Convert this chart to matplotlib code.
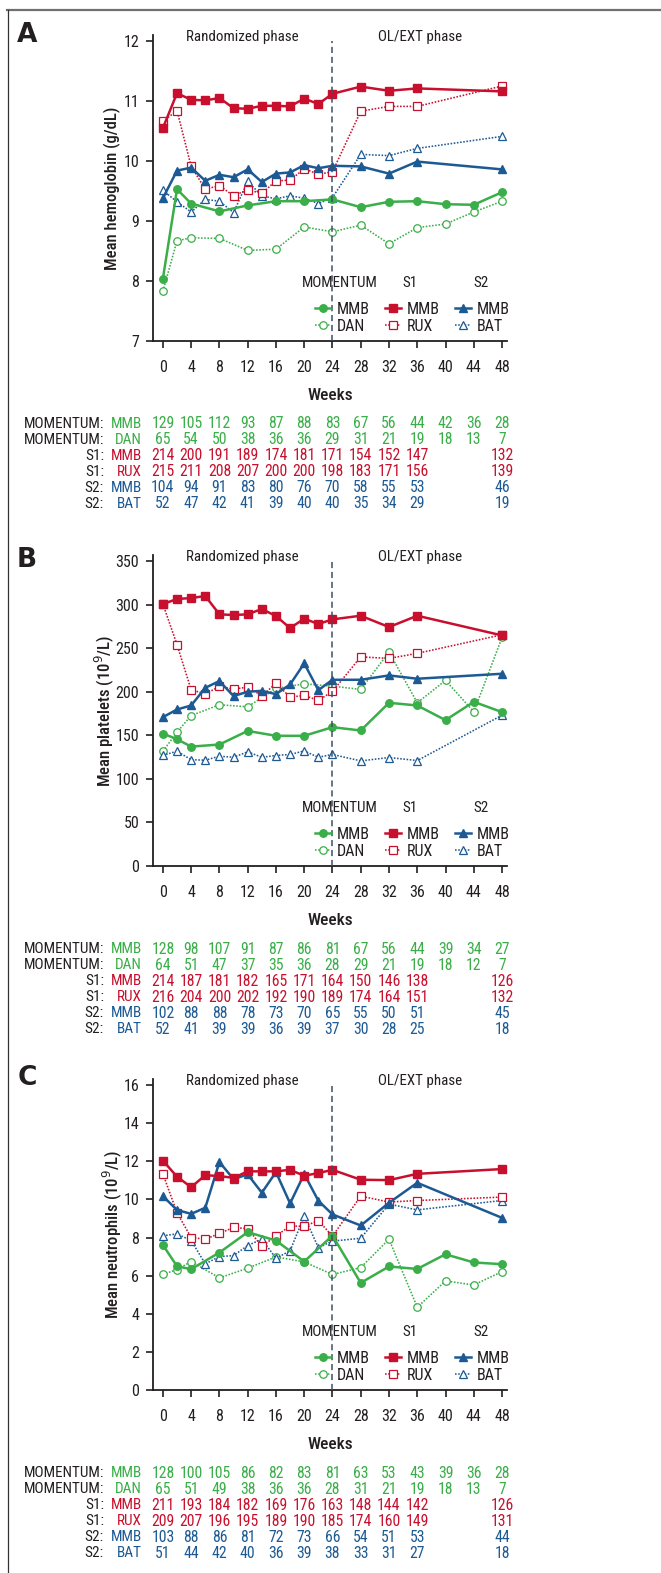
import matplotlib
matplotlib.use("Agg")
import matplotlib.pyplot as plt
import matplotlib.font_manager as fm
from matplotlib.lines import Line2D
from matplotlib import transforms

# ---------------- data ----------------
WK_M = [0, 2, 4, 8, 12, 16, 20, 24, 28, 32, 36, 40, 44, 48]
WK_S = [0, 2, 4, 6, 8, 10, 12, 14, 16, 18, 20, 22, 24, 28, 32, 36, 48]
TICK_WEEKS = [0, 4, 8, 12, 16, 20, 24, 28, 32, 36, 40, 44, 48]

# Hemoglobin (g/dL)
hb_mom_mmb = [8.04, 9.53, 9.29, 9.16, 9.26, 9.33, 9.33, 9.36, 9.23, 9.32, 9.33, 9.28, 9.27, 9.48]
hb_mom_dan = [7.83, 8.67, 8.72, 8.71, 8.51, 8.53, 8.90, 8.82, 8.93, 8.62, 8.89, 8.95, 9.15, 9.33]
hb_s1_mmb = [10.55, 11.13, 11.02, 11.01, 11.05, 10.88, 10.87, 10.92, 10.92, 10.91, 11.04, 10.95, 11.12, 11.24, 11.17, 11.21, 11.16]
hb_s1_rux = [10.66, 10.84, 9.91, 9.53, 9.59, 9.42, 9.52, 9.46, 9.67, 9.68, 9.87, 9.78, 9.82, 10.83, 10.91, 10.91, 11.25]
hb_s2_mmb = [9.38, 9.84, 9.89, 9.67, 9.77, 9.73, 9.86, 9.65, 9.79, 9.81, 9.93, 9.88, 9.92, 9.91, 9.79, 9.99, 9.86]
hb_s2_bat = [9.51, 9.32, 9.15, 9.36, 9.33, 9.14, 9.66, 9.42, 9.37, 9.42, 9.38, 9.29, 9.39, 10.11, 10.09, 10.21, 10.41]

# Platelets (10^9/L)
pl_mom_mmb = [152, 145.5, 137, 139.4, 155, 149.4, 149.4, 159.3, 155.5, 187.3, 184.2, 167.4, 188.4, 176.6]
pl_mom_dan = [131.7, 153.6, 172.7, 185, 182.7, 203.7, 209, 206.4, 202.6, 245.5, 187.3, 213, 177, 262.3]
pl_s1_mmb = [300.6, 306.4, 307.5, 309.8, 288.8, 288, 288.8, 294.9, 286.9, 273, 283.8, 277.7, 283, 287.2, 274.2, 287.2, 264.6]
pl_s1_rux = [300.6, 254, 202.2, 197.6, 206, 203, 205.3, 195.3, 209.5, 193.8, 195.7, 190, 200.3, 240, 238.2, 244, 265.4]
pl_s2_mmb = [170.8, 179.6, 184.2, 204.5, 212.2, 195, 200, 201, 197.2, 208.3, 232.5, 201.8, 213.7, 213.7, 218.7, 214.9, 220.6]
pl_s2_bat = [127, 131.7, 122, 121.4, 126, 124.8, 131, 124.8, 126.8, 128, 132, 124.8, 128, 120.6, 124.5, 121, 173]

# Neutrophils (10^9/L)
ne_mom_mmb = [7.61, 6.49, 6.34, 7.21, 8.28, 7.84, 6.74, 8.10, 5.62, 6.48, 6.35, 7.12, 6.69, 6.60]
ne_mom_dan = [6.06, 6.32, 6.74, 5.88, 6.39, 6.98, 6.72, 6.06, 6.42, 7.91, 4.34, 5.72, 5.51, 6.21]
ne_s1_mmb = [12.03, 11.19, 10.64, 11.27, 11.22, 11.13, 11.47, 11.47, 11.47, 11.55, 11.24, 11.38, 11.55, 11.03, 11.01, 11.34, 11.59]
ne_s1_rux = [11.34, 9.30, 8.00, 7.91, 8.21, 8.53, 8.46, 7.54, 8.07, 8.61, 8.58, 8.89, 8.07, 10.17, 9.86, 9.94, 10.12]
ne_s2_mmb = [10.17, 9.44, 9.24, 9.56, 11.96, 11.06, 11.31, 10.35, 11.43, 9.79, 11.33, 9.93, 9.21, 8.63, 9.82, 10.87, 9.03]
ne_s2_bat = [8.09, 8.19, 7.84, 6.62, 7.00, 7.05, 7.58, 7.91, 6.91, 7.30, 9.12, 7.47, 7.81, 7.96, 9.75, 9.45, 9.94]

# Numbers at risk (weeks 0..48 by 4); None = not reported
ROW_STUDY = ["MOMENTUM:", "MOMENTUM:", "S1:", "S1:", "S2:", "S2:"]
ROW_ARM = ["MMB", "DAN", "MMB", "RUX", "MMB", "BAT"]

n_hb = [
    [129, 105, 112, 93, 87, 88, 83, 67, 56, 44, 42, 36, 28],
    [65, 54, 50, 38, 36, 36, 29, 31, 21, 19, 18, 13, 7],
    [214, 200, 191, 189, 174, 181, 171, 154, 152, 147, None, None, 132],
    [215, 211, 208, 207, 200, 200, 198, 183, 171, 156, None, None, 139],
    [104, 94, 91, 83, 80, 76, 70, 58, 55, 53, None, None, 46],
    [52, 47, 42, 41, 39, 40, 40, 35, 34, 29, None, None, 19],
]
n_pl = [
    [128, 98, 107, 91, 87, 86, 81, 67, 56, 44, 39, 34, 27],
    [64, 51, 47, 37, 35, 36, 28, 29, 21, 19, 18, 12, 7],
    [214, 187, 181, 182, 165, 171, 164, 150, 146, 138, None, None, 126],
    [216, 204, 200, 202, 192, 190, 189, 174, 164, 151, None, None, 132],
    [102, 88, 88, 78, 73, 70, 65, 55, 50, 51, None, None, 45],
    [52, 41, 39, 39, 36, 39, 37, 30, 28, 25, None, None, 18],
]
n_ne = [
    [128, 100, 105, 86, 82, 83, 81, 63, 53, 43, 39, 36, 28],
    [65, 51, 49, 38, 36, 36, 28, 31, 21, 19, 18, 13, 7],
    [211, 193, 184, 182, 169, 176, 163, 148, 144, 142, None, None, 126],
    [209, 207, 196, 195, 189, 190, 185, 174, 160, 149, None, None, 131],
    [103, 88, 86, 81, 72, 73, 66, 54, 51, 53, None, None, 44],
    [51, 44, 42, 40, 36, 39, 38, 33, 31, 27, None, None, 18],
]

# ---------------- style ----------------
names = {f.name for f in fm.fontManager.ttflist}
FONT = "Liberation Sans"
SCALE = 0.85
for cand in ["Roboto Condensed", "Archivo Narrow", "PT Sans Narrow", "Fira Sans Condensed",
             "IBM Plex Sans Condensed", "Liberation Sans Narrow"]:
    if cand in names:
        FONT = cand
        SCALE = 1.0
        break
plt.rcParams["font.family"] = [FONT, "DejaVu Sans"]


def fs(v):
    return v * SCALE


GREEN = "#3aae48"
RED = "#c8102e"
BLUE = "#1d5a94"
DARK = "#231f20"
ROW_COLORS = [GREEN, GREEN, RED, RED, BLUE, BLUE]

W, H = 661, 1573
fig = plt.figure(figsize=(W / 100, H / 100), dpi=100)

# outer frame decoration
fig.add_artist(Line2D([7 / W, 1.0], [1 - 10 / H, 1 - 10 / H], transform=fig.transFigure,
                      color="#707070", lw=1.6))
fig.add_artist(Line2D([7.5 / W, 7.5 / W], [1 - 10 / H, 0], transform=fig.transFigure,
                      color="#333333", lw=0.9))

AX_L, AX_R = 153, 507
XLIM = (-1.4, 48.7)

panels = [
    dict(letter="A", bottom=341, ylim=(7, 12.1), top_tick=12, yticks=list(range(7, 13)),
         ylabel="Mean hemoglobin (g/dL)", ylab_x=112, px_per=60.0,
         series=(hb_mom_mmb, hb_mom_dan, hb_s1_mmb, hb_s1_rux, hb_s2_mmb, hb_s2_bat),
         table=n_hb, letter_y=35),
    dict(letter="B", bottom=866, ylim=(0, 357), top_tick=350, yticks=list(range(0, 351, 50)),
         ylabel="Mean platelets (10$^{9}$/L)", ylab_x=104, px_per=305 / 350,
         series=(pl_mom_mmb, pl_mom_dan, pl_s1_mmb, pl_s1_rux, pl_s2_mmb, pl_s2_bat),
         table=n_pl, letter_y=560),
    dict(letter="C", bottom=1390, ylim=(0, 16.3), top_tick=16, yticks=list(range(0, 17, 2)),
         ylabel="Mean neutrophils (10$^{9}$/L)", ylab_x=112, px_per=305 / 16,
         series=(ne_mom_mmb, ne_mom_dan, ne_s1_mmb, ne_s1_rux, ne_s2_mmb, ne_s2_bat),
         table=n_ne, letter_y=1078),
]

solid_kw = dict(lw=1.8, solid_joinstyle="round")
dot_kw = dict(lw=1.15, linestyle=(0, (1, 1.0)))

for p in panels:
    hpx = (p["ylim"][1] - p["ylim"][0]) * p["px_per"]
    ax = fig.add_axes([AX_L / W, (H - p["bottom"]) / H, (AX_R - AX_L) / W, hpx / H])
    ax.set_xlim(*XLIM)
    ax.set_ylim(*p["ylim"])
    for s in ["top", "right"]:
        ax.spines[s].set_visible(False)
    for s in ["left", "bottom"]:
        ax.spines[s].set_linewidth(1.3)
        ax.spines[s].set_color(DARK)
    ax.set_xticks(TICK_WEEKS)
    ax.set_yticks(p["yticks"])
    ax.tick_params(axis="both", direction="out", length=5, width=1.2, color=DARK,
                   labelsize=fs(11.5), labelcolor=DARK)
    ax.tick_params(axis="x", pad=9)
    ax.tick_params(axis="y", pad=5)
    ax.set_xlabel("Weeks", fontsize=fs(12.5), color=DARK, labelpad=9, fontweight="medium")
    ax.set_ylabel(p["ylabel"], fontsize=fs(12), color=DARK, fontweight="medium")
    ax.yaxis.set_label_coords((p["ylab_x"] - AX_L) / (AX_R - AX_L), 0.5)
    ax.yaxis.label.set_verticalalignment("center")
    ax.patch.set_alpha(0)

    mm, md, s1m, s1r, s2m, s2b = p["series"]
    h_dan, = ax.plot(WK_M, md, color=GREEN, marker="o", ms=5.4, mfc="white", mec=GREEN,
                     mew=0.9, **dot_kw, zorder=3)
    h_bat, = ax.plot(WK_S, s2b, color=BLUE, marker="^", ms=5.8, mfc="white", mec=BLUE,
                     mew=0.9, **dot_kw, zorder=3)
    h_rux, = ax.plot(WK_S, s1r, color=RED, marker="s", ms=5.2, mfc="white", mec=RED,
                     mew=0.9, **dot_kw, zorder=3)
    h_mm, = ax.plot(WK_M, mm, color=GREEN, marker="o", ms=5.4, mfc=GREEN, mec=GREEN,
                    **solid_kw, zorder=4)
    h_s2m, = ax.plot(WK_S, s2m, color=BLUE, marker="^", ms=6.2, mfc=BLUE, mec=BLUE,
                     **solid_kw, zorder=4)
    h_s1m, = ax.plot(WK_S, s1m, color=RED, marker="s", ms=5.4, mfc=RED, mec=RED,
                     **solid_kw, zorder=5)

    ax.vlines(24, p["ylim"][0], p["top_tick"], colors="#3d4f63", linestyles=(0, (4, 2.5)),
              lw=1.1, zorder=6)

    ytxt = p["top_tick"] + 4 / p["px_per"]
    ax.text(11.2, ytxt, "Randomized phase", ha="center", va="center",
            fontsize=fs(10.8), color=DARK)
    ax.text(36.4, ytxt, "OL/EXT phase", ha="center", va="center",
            fontsize=fs(10.8), color=DARK)

    tb = transforms.blended_transform_factory(ax.transData, ax.transAxes)
    for xw, lab in [(25.1, "MOMENTUM"), (35.0, "S1"), (45.0, "S2")]:
        ax.text(xw, 58 / hpx, lab, transform=tb, ha="center", va="center",
                fontsize=fs(10.8), color=DARK)

    xcols = [(315 - AX_L) / (AX_R - AX_L), (385 - AX_L) / (AX_R - AX_L),
             (455 - AX_L) / (AX_R - AX_L)]
    groups = [([h_mm, h_dan], ["MMB", "DAN"]), ([h_s1m, h_rux], ["MMB", "RUX"]),
              ([h_s2m, h_bat], ["MMB", "BAT"])]
    legs = []
    for xc, (hs, ls) in zip(xcols, groups):
        lg = ax.legend(hs, ls, loc="lower left", bbox_to_anchor=(xc, 7 / hpx),
                       frameon=False, borderpad=0, borderaxespad=0, handlelength=1.0,
                       handletextpad=0.35, labelspacing=0.12, fontsize=fs(11.5),
                       labelcolor=DARK)
        lg.set_zorder(7)
        legs.append(lg)
    for lg in legs[:-1]:
        ax.add_artist(lg)

    # number-at-risk table
    for i, row in enumerate(p["table"]):
        yfrac = -(83 + 16 * i) / hpx
        ax.text((104 - AX_L) / (AX_R - AX_L), yfrac, ROW_STUDY[i], transform=ax.transAxes,
                ha="right", va="center", fontsize=fs(11), color=DARK, clip_on=False)
        ax.text((142 - AX_L) / (AX_R - AX_L), yfrac, ROW_ARM[i], transform=ax.transAxes,
                ha="right", va="center", fontsize=fs(11), color=ROW_COLORS[i], clip_on=False)
        for wk, v in zip(TICK_WEEKS, row):
            if v is None:
                continue
            ax.text(wk, yfrac, str(v), transform=tb, ha="center", va="center",
                    fontsize=fs(11.3), color=ROW_COLORS[i], clip_on=False)

    fig.text(27 / W, 1 - p["letter_y"] / H, p["letter"], ha="center", va="center",
             fontsize=19, fontweight="heavy", color=DARK, family="DejaVu Sans")

fig.savefig("out.png", dpi=100)
